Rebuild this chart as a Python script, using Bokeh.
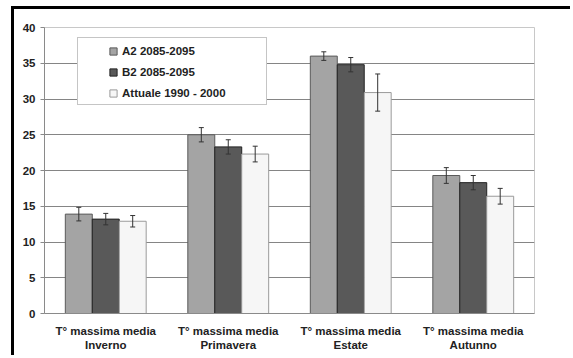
from bokeh.plotting import figure
from bokeh.models import (FactorRange, Range1d, ColumnDataSource, Whisker, Legend,
                          LegendItem, FixedTicker, TeeHead)
from bokeh.transform import dodge
from bokeh.embed import file_html
from bokeh.resources import INLINE

# ---- data ----
categories = ["T° massima media\nInverno", "T° massima media\nPrimavera",
              "T° massima media\nEstate", "T° massima media\nAutunno"]
series_names = ["A2 2085-2095", "B2 2085-2095", "Attuale 1990 - 2000"]
a2_values = [13.9, 25.0, 36.0, 19.3]
a2_errors = [0.95, 1.0, 0.6, 1.1]
b2_values = [13.2, 23.3, 34.8, 18.3]
b2_errors = [0.8, 1.0, 1.0, 1.0]
att_values = [12.9, 22.3, 30.9, 16.4]
att_errors = [0.8, 1.1, 2.6, 1.1]
y_ticks = [0, 5, 10, 15, 20, 25, 30, 35, 40]

FONT = "Liberation Sans"

src = ColumnDataSource(dict(
    x=categories,
    a2=a2_values, b2=b2_values, att=att_values,
    a2_up=[v + e for v, e in zip(a2_values, a2_errors)],
    a2_lo=[v - e for v, e in zip(a2_values, a2_errors)],
    b2_up=[v + e for v, e in zip(b2_values, b2_errors)],
    b2_lo=[v - e for v, e in zip(b2_values, b2_errors)],
    att_up=[v + e for v, e in zip(att_values, att_errors)],
    att_lo=[v - e for v, e in zip(att_values, att_errors)],
))

p = figure(x_range=FactorRange(*categories), y_range=Range1d(0, 40),
           width=559, height=349, output_backend="svg", toolbar_location=None,
           min_border_left=30, min_border_right=39, min_border_top=18, min_border_bottom=45)
p.styles = {"border-top": "3px solid black", "border-left": "3px solid black",
            "margin-left": "11px", "margin-top": "6px"}

p.background_fill_color = "white"
p.border_fill_color = "white"
p.outline_line_color = "#c8c8c8"
p.outline_line_width = 1

p.xgrid.grid_line_color = None
p.ygrid.grid_line_color = "#858585"
p.ygrid.grid_line_width = 1
p.yaxis.ticker = FixedTicker(ticks=y_ticks)

W = 0.22
offsets = [-W, 0.0, W]
cols = ["a2", "b2", "att"]
fills = ["#a4a4a4", "#595959", "#f6f6f6"]
lines = ["#5a5a5a", "#222222", "#9a9a9a"]

for col, off, fc, lc in zip(cols, offsets, fills, lines):
    p.vbar(x=dodge("x", off, range=p.x_range), top=col, width=W, source=src,
           fill_color=fc, line_color=lc, line_width=1)
    p.add_layout(Whisker(source=src, base=dodge("x", off, range=p.x_range),
                         upper=col + "_up", lower=col + "_lo", level="overlay",
                         line_color="#333333", line_width=1,
                         upper_head=TeeHead(size=5, line_color="#333333", line_width=1),
                         lower_head=TeeHead(size=5, line_color="#333333", line_width=1)))

# legend frame (a one-item legend with an invisible swatch, drawn as the box)
blank = p.scatter(x="x", y="a2", source=src, marker="square", fill_alpha=0,
                  line_alpha=0, visible=False)
legend_box = Legend(items=[LegendItem(label=" ", renderers=[blank])], location=(33, 208),
                    glyph_width=10, glyph_height=66, label_height=66, label_width=178,
                    label_standoff=0, padding=0, margin=0,
                    border_line_color="#8c8c8c", border_line_width=1,
                    background_fill_color="white", background_fill_alpha=1.0)
p.add_layout(legend_box, "center")

# legend entries (hidden renderers, only used for the swatches)
items = []
for name, col, fc, lc in zip(series_names, cols, fills, lines):
    r = p.scatter(x="x", y=col, source=src, marker="square", fill_color=fc,
                  line_color=lc, visible=False)
    items.append(LegendItem(label=name, renderers=[r]))

legend = Legend(items=items, location=(60, 211), orientation="vertical",
                glyph_width=18, glyph_height=18, label_height=18,
                label_standoff=0, padding=0, spacing=3, margin=0,
                label_text_font=FONT, label_text_font_style="bold",
                label_text_font_size="11.5px", label_text_color="#222222",
                border_line_color=None, background_fill_alpha=0.0)
p.add_layout(legend, "center")

for ax in (p.xaxis[0], p.yaxis[0]):
    ax.axis_line_color = "#8a8a8a"
    ax.major_label_text_font = FONT
    ax.major_label_text_font_style = "bold"
    ax.major_label_text_font_size = "11.5px"
    ax.major_label_text_color = "#222222"
    ax.minor_tick_line_color = None

p.yaxis.major_tick_line_color = "#8a8a8a"
p.yaxis.major_tick_out = 4
p.yaxis.major_tick_in = 0
p.yaxis.major_label_standoff = 5

p.xaxis.major_tick_line_color = None
p.xaxis.major_label_standoff = 5
p.xaxis.major_label_orientation = "horizontal"

open("out.html", "w").write(file_html(p, INLINE))
